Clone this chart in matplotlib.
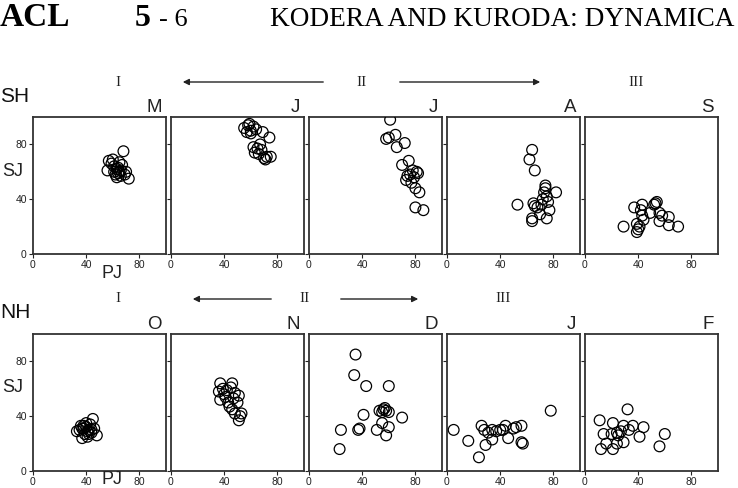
import matplotlib
matplotlib.use("Agg")
import matplotlib.pyplot as plt
from matplotlib.patches import FancyArrowPatch

# ---------------- data ----------------
sh_months = ["M", "J", "J", "A", "S"]
nh_months = ["O", "N", "D", "J", "F"]

sh_M_pj = [68, 57, 60, 56, 63, 65, 62, 66, 64, 61, 67, 70, 72, 59, 64, 63, 66, 69, 61, 65]
sh_M_sj = [75, 68, 69, 61, 62, 60, 58, 57, 59, 64, 65, 60, 55, 66, 63, 56, 61, 58, 60, 67]

sh_J1_pj = [59, 55, 62, 60, 57, 64, 69, 74, 62, 67, 68, 63, 70, 72, 66, 75, 60, 58, 65, 71]
sh_J1_sj = [95, 92, 93, 90, 89, 91, 89, 85, 78, 80, 76, 74, 70, 71, 73, 71, 88, 94, 77, 69]

sh_J2_pj = [61, 58, 60, 65, 72, 66, 75, 70, 78, 82, 73, 80, 83, 80, 86, 76, 79, 74, 81, 77]
sh_J2_sj = [98, 84, 85, 87, 81, 78, 68, 65, 61, 59, 54, 48, 45, 34, 32, 58, 56, 57, 60, 52]

sh_A_pj = [64, 62, 66, 53, 65, 74, 82, 75, 71, 77, 75, 64, 64, 70, 73, 76, 68, 72, 74, 66]
sh_A_sj = [76, 69, 61, 36, 37, 48, 45, 42, 36, 32, 26, 26, 24, 29, 45, 38, 34, 40, 50, 35]

sh_S_pj = [53, 52, 37, 43, 29, 39, 41, 56, 63, 70, 63, 56, 49, 39, 43, 42, 44, 40, 58, 54]
sh_S_sj = [37, 36, 34, 36, 20, 16, 20, 30, 27, 20, 21, 24, 30, 22, 28, 32, 25, 18, 28, 38]

nh_O_pj = [45, 33, 37, 48, 40, 38, 42, 36, 44, 41, 39, 43, 46, 35, 40, 42, 38, 44, 41, 37]
nh_O_sj = [38, 29, 24, 26, 32, 31, 30, 33, 28, 29, 27, 34, 31, 30, 35, 27, 33, 30, 25, 31]

nh_N_pj = [37, 46, 37, 36, 44, 48, 53, 51, 51, 42, 40, 45, 47, 50, 39, 43, 48, 52, 46, 41]
nh_N_sj = [64, 64, 52, 58, 47, 42, 42, 37, 55, 59, 56, 61, 53, 50, 60, 50, 57, 40, 45, 54]

nh_D_pj = [35, 34, 43, 60, 41, 53, 56, 58, 60, 70, 24, 23, 37, 38, 51, 55, 60, 58, 57, 55]
nh_D_sj = [85, 70, 62, 62, 41, 44, 45, 44, 43, 39, 30, 16, 30, 31, 30, 35, 32, 26, 46, 43]

nh_J_pj = [5, 16, 24, 29, 26, 34, 34, 40, 44, 46, 52, 56, 56, 78, 28, 37, 42, 50, 57, 31]
nh_J_sj = [30, 22, 10, 19, 33, 30, 23, 30, 33, 24, 32, 33, 21, 44, 30, 29, 30, 31, 20, 28]

nh_F_pj = [32, 11, 21, 14, 12, 16, 21, 24, 29, 24, 29, 36, 44, 41, 60, 56, 27, 20, 25, 33]
nh_F_sj = [45, 37, 35, 27, 16, 20, 16, 20, 21, 28, 33, 33, 32, 25, 27, 18, 29, 27, 26, 30]

sh_data = [(sh_M_pj, sh_M_sj), (sh_J1_pj, sh_J1_sj), (sh_J2_pj, sh_J2_sj),
           (sh_A_pj, sh_A_sj), (sh_S_pj, sh_S_sj)]
nh_data = [(nh_O_pj, nh_O_sj), (nh_N_pj, nh_N_sj), (nh_D_pj, nh_D_sj),
           (nh_J_pj, nh_J_sj), (nh_F_pj, nh_F_sj)]

ticks = [0, 40, 80]
tick_labels = ["0", "40", "80"]

# ---------------- figure ----------------
W, H = 738, 488
fig = plt.figure(figsize=(W / 100, H / 100), dpi=100)
SANS = ["Liberation Sans", "DejaVu Sans"]
SERIF = ["Liberation Serif", "DejaVu Serif"]

def fx(px):
    return px / W

def fy(py):
    return 1 - py / H

lefts = [33, 171, 309, 447, 585]
pw = 133
rows = [(117, 254, sh_data, sh_months), (334, 471, nh_data, nh_months)]

for (top, bot, data, months) in rows:
    for i, (left, (xs, ys), mon) in enumerate(zip(lefts, data, months)):
        ax = fig.add_axes([fx(left), fy(bot), pw / W, (bot - top) / H])
        ax.scatter(xs, ys, s=60, facecolors="none", edgecolors="black",
                   linewidths=0.9, zorder=3)
        ax.set_xlim(0, 100)
        ax.set_ylim(0, 100)
        ax.set_xticks(ticks)
        ax.set_xticklabels(tick_labels, fontsize=7.5, family=SANS)
        ax.set_yticks(ticks)
        if i == 0:
            ax.set_yticklabels(tick_labels, fontsize=7.5, family=SANS)
        else:
            ax.set_yticklabels([])
        ax.tick_params(direction="out", length=3, width=0.8, pad=1.5,
                       colors="#222222")
        for sp in ax.spines.values():
            sp.set_linewidth(1.3)
            sp.set_color("#333333")
        ax.text(0.97, 1.01, mon, transform=ax.transAxes, ha="right",
                va="bottom", fontsize=13.5, family=SANS, color="#222222")

# ---------------- labels ----------------
fig.text(fx(0), fy(26), "ACL", fontsize=24, family=SERIF, weight="bold",
         ha="left", va="baseline")
fig.text(fx(135), fy(26), "5", fontsize=23, family=SERIF, weight="bold",
         ha="left", va="baseline")
fig.text(fx(159), fy(26), "- 6", fontsize=19, family=SERIF,
         ha="left", va="baseline")
fig.text(fx(270), fy(26), "KODERA AND KURODA: DYNAMICA", fontsize=19.6,
         family=SERIF, ha="left", va="baseline")

fig.text(fx(0), fy(102), "SH", fontsize=15, family=SANS, ha="left",
         va="baseline", color="#111111")
fig.text(fx(0), fy(318), "NH", fontsize=15, family=SANS, ha="left",
         va="baseline", color="#111111")

for py in (171, 388):
    fig.text(fx(2), fy(py), "SJ", fontsize=13, family=SANS, ha="left",
             va="center", color="#222222")
fig.text(fx(112), fy(274), "PJ", fontsize=13, family=SANS, ha="center",
         va="center", color="#222222")
fig.text(fx(112), fy(487.5), "PJ", fontsize=13, family=SANS, ha="center",
         va="bottom", color="#222222")

def roman(px, py, s):
    fig.text(fx(px), fy(py), s, fontsize=11, family=SERIF, ha="center",
             va="center", color="#222222")

def arrow(x0, x1, py):
    a = FancyArrowPatch((fx(x0), fy(py)), (fx(x1), fy(py)),
                        transform=fig.transFigure, arrowstyle="-|>",
                        mutation_scale=9, lw=1.0, color="#222222")
    fig.add_artist(a)

roman(118, 82, "I")
roman(362, 82, "II")
roman(636, 82, "III")
arrow(326, 180, 82)
arrow(397, 543, 82)

roman(118, 299, "I")
roman(305, 299, "II")
roman(503, 299, "III")
arrow(274, 190, 299)
arrow(338, 421, 299)

fig.savefig("out.png", dpi=100)
